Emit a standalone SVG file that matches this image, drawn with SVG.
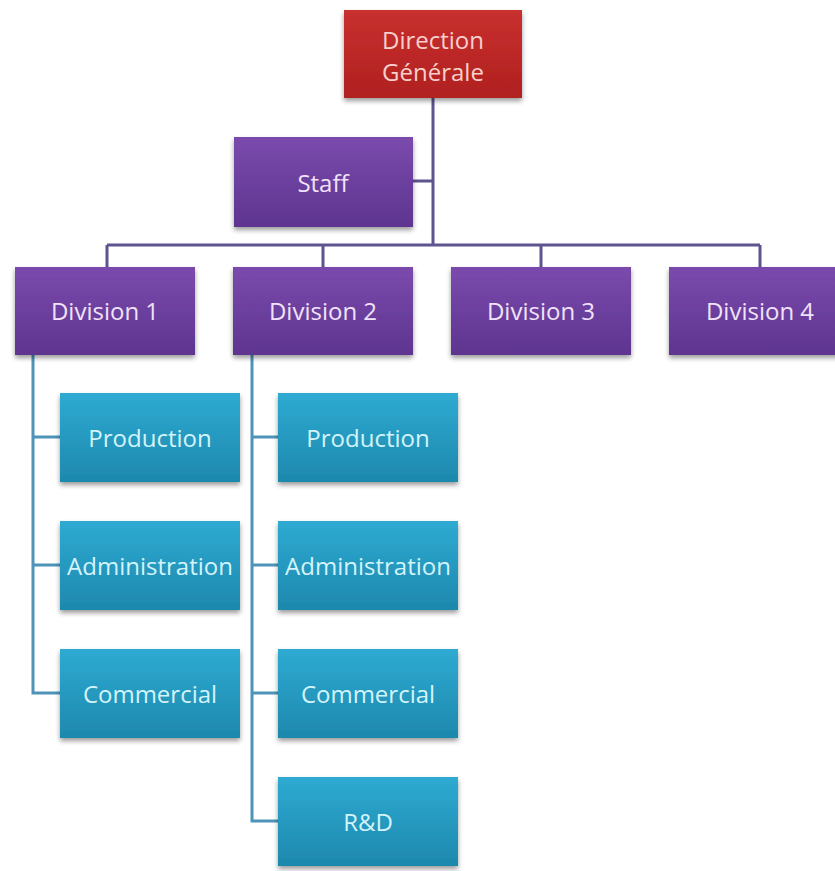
<svg xmlns="http://www.w3.org/2000/svg" width="835" height="871" viewBox="0 0 835 871">
<defs>
<linearGradient id="gRed" x1="0" y1="0" x2="0" y2="1"><stop offset="0" stop-color="#c8302f"/><stop offset="1" stop-color="#b0201f"/></linearGradient>
<linearGradient id="gPur" x1="0" y1="0" x2="0" y2="1"><stop offset="0" stop-color="#7a4aac"/><stop offset="1" stop-color="#5e3590"/></linearGradient>
<linearGradient id="gBlu" x1="0" y1="0" x2="0" y2="1"><stop offset="0" stop-color="#2eaad2"/><stop offset="1" stop-color="#1e88ad"/></linearGradient>
<filter id="sh" x="-10%" y="-10%" width="120%" height="130%"><feGaussianBlur in="SourceAlpha" stdDeviation="2.5"/><feOffset dy="3" result="b"/><feComponentTransfer><feFuncA type="linear" slope="0.4"/></feComponentTransfer><feMerge><feMergeNode/><feMergeNode in="SourceGraphic"/></feMerge></filter>
</defs>
<style>
text{font-family:"Open Sans","Liberation Sans",sans-serif;font-size:24px;text-anchor:middle;dominant-baseline:central}
.red rect{fill:url(#gRed);filter:url(#sh)}
.red text{fill:#f6d0cc}
.pur rect{fill:url(#gPur);filter:url(#sh)}
.pur text{fill:#f0e2f8}
.blu rect{fill:url(#gBlu);filter:url(#sh)}
.blu text{fill:#d2f4fa}
.lp{fill:none;stroke:#5f5390;stroke-width:3}
.lb{fill:none;stroke:#4d94b8;stroke-width:3}
</style>
<rect width="835" height="871" fill="#ffffff"/>
<g id="connectors">
<path class="lp" d="M433 98V245M413 181H433M107 245H760M107 245V267M323 245V267M541 245V267M760 245V267"/>
<path class="lb" d="M33 355V693H60M33 437H60M33 565H60"/>
<path class="lb" d="M252 355V821H278M252 437H278M252 565H278M252 693H278"/>
</g>
<g id="direction" class="red"><rect x="344" y="10" width="178" height="88"/><text x="433" y="39">Direction</text><text x="433" y="71">Générale</text></g>
<g id="staff" class="pur"><rect x="234" y="137" width="179" height="90"/><text x="323" y="182">Staff</text></g>
<g id="div1" class="pur"><rect x="15" y="267" width="180" height="88"/><text x="105" y="310">Division 1</text></g>
<g id="div2" class="pur"><rect x="233" y="267" width="180" height="88"/><text x="323" y="310">Division 2</text></g>
<g id="div3" class="pur"><rect x="451" y="267" width="180" height="88"/><text x="541" y="310">Division 3</text></g>
<g id="div4" class="pur"><rect x="669" y="267" width="180" height="88"/><text x="760" y="310">Division 4</text></g>
<g id="d1prod" class="blu"><rect x="60" y="393" width="180" height="89"/><text x="150" y="437">Production</text></g>
<g id="d1adm" class="blu"><rect x="60" y="521" width="180" height="89"/><text x="150" y="565">Administration</text></g>
<g id="d1com" class="blu"><rect x="60" y="649" width="180" height="89"/><text x="150" y="693">Commercial</text></g>
<g id="d2prod" class="blu"><rect x="278" y="393" width="180" height="89"/><text x="368" y="437">Production</text></g>
<g id="d2adm" class="blu"><rect x="278" y="521" width="180" height="89"/><text x="368" y="565">Administration</text></g>
<g id="d2com" class="blu"><rect x="278" y="649" width="180" height="89"/><text x="368" y="693">Commercial</text></g>
<g id="d2rd" class="blu"><rect x="278" y="777" width="180" height="89"/><text x="368" y="821">R&amp;D</text></g>
</svg>
